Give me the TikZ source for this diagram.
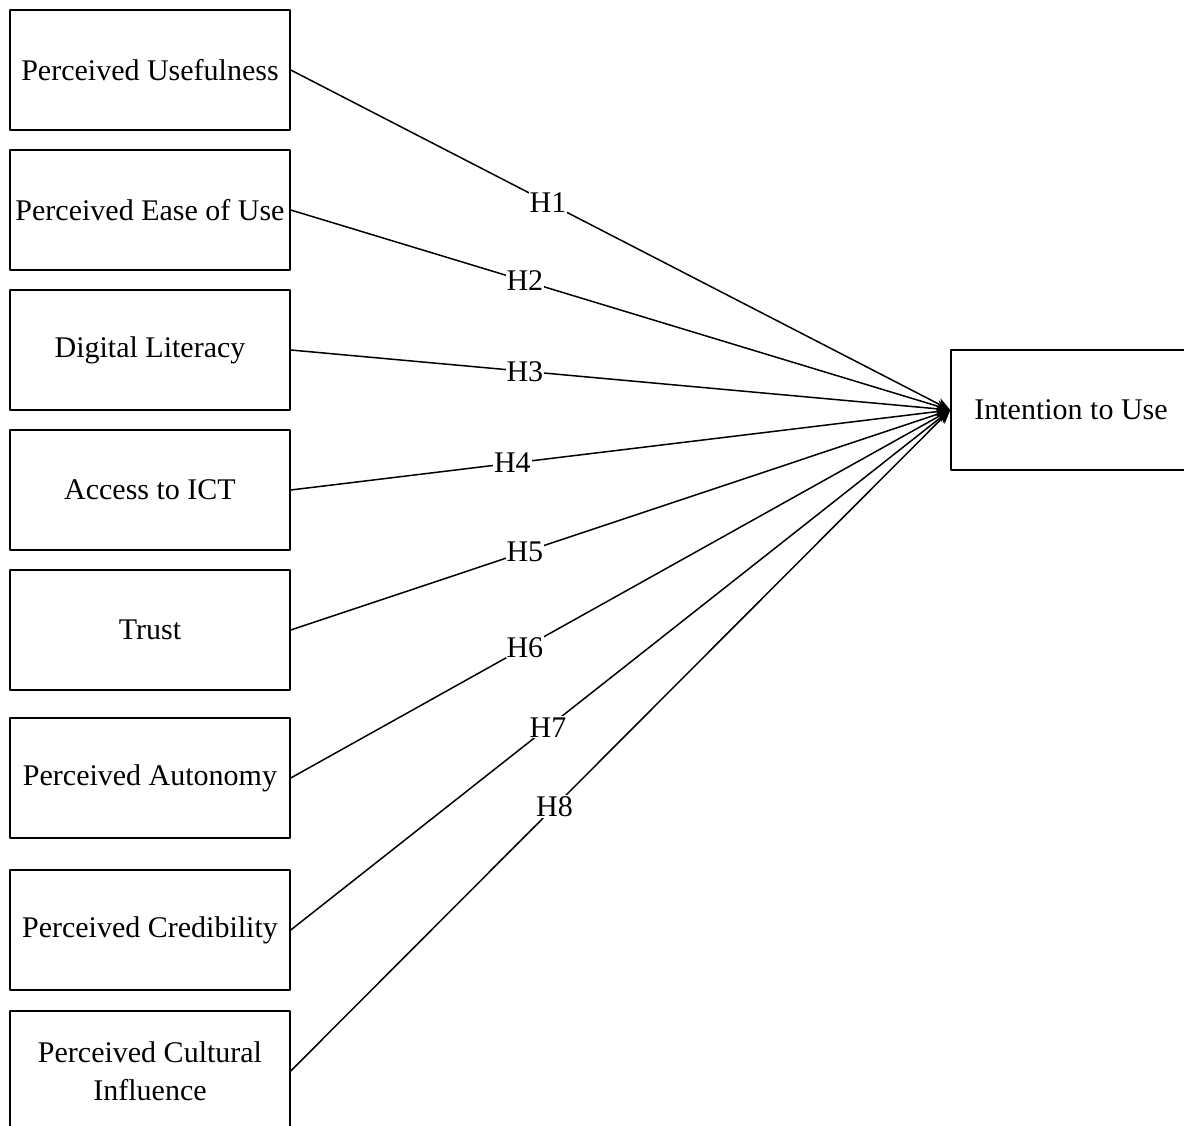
\documentclass[tikz,border=0pt]{standalone}
\usepackage{fontspec}
\setmainfont{Liberation Serif}
\usetikzlibrary{arrows.meta}
\begin{document}
\begin{tikzpicture}[x=1pt,y=-1pt,line join=round,>={Stealth[length=14pt,width=12pt]},line width=1.5pt]
		\tikzset{box/.style={draw,minimum width=280pt,minimum height=120pt,inner sep=0pt,align=center,font=\fontsize{30}{38}\selectfont},
			hyp/.style={fill=white,inner sep=1pt,font=\fontsize{30}{34}\selectfont}}
		\useasboundingbox (0,0) rectangle (1184,1126);
		\node[box] (pu) at (150,70) {Perceived Usefulness};
		\node[box] (peu) at (150,210) {Perceived Ease of Use};
		\node[box] (dl) at (150,350) {Digital Literacy};
		\node[box] (ict) at (150,490) {Access to ICT};
		\node[box] (tr) at (150,630) {Trust};
		\node[box] (pa) at (150,778) {Perceived Autonomy};
		\node[box] (pc) at (150,930) {Perceived Credibility};
		\node[box] (pci) at (150,1071) {Perceived Cultural\\Influence};
		\node[box,minimum width=240pt] (iu) at (1071,410) {Intention to Use};
		% hypotheses
		\draw[->] (pu.east) -- node[hyp,pos=.39] {H1} (iu.west);
		\draw[->] (peu.east) -- node[hyp,pos=.355] {H2} (iu.west);
		\draw[->] (dl.east) -- node[hyp,pos=.355] {H3} (iu.west);
		\draw[->] (ict.east) -- node[hyp,pos=.336] {H4} (iu.west);
		\draw[->] (tr.east) -- node[hyp,pos=.355] {H5} (iu.west);
		\draw[->] (pa.east) -- node[hyp,pos=.355] {H6} (iu.west);
		\draw[->] (pc.east) -- node[hyp,pos=.39] {H7} (iu.west);
		\draw[->] (pci.east) -- node[hyp,pos=.40] {H8} (iu.west);
		
		\end{tikzpicture}
\end{document}
